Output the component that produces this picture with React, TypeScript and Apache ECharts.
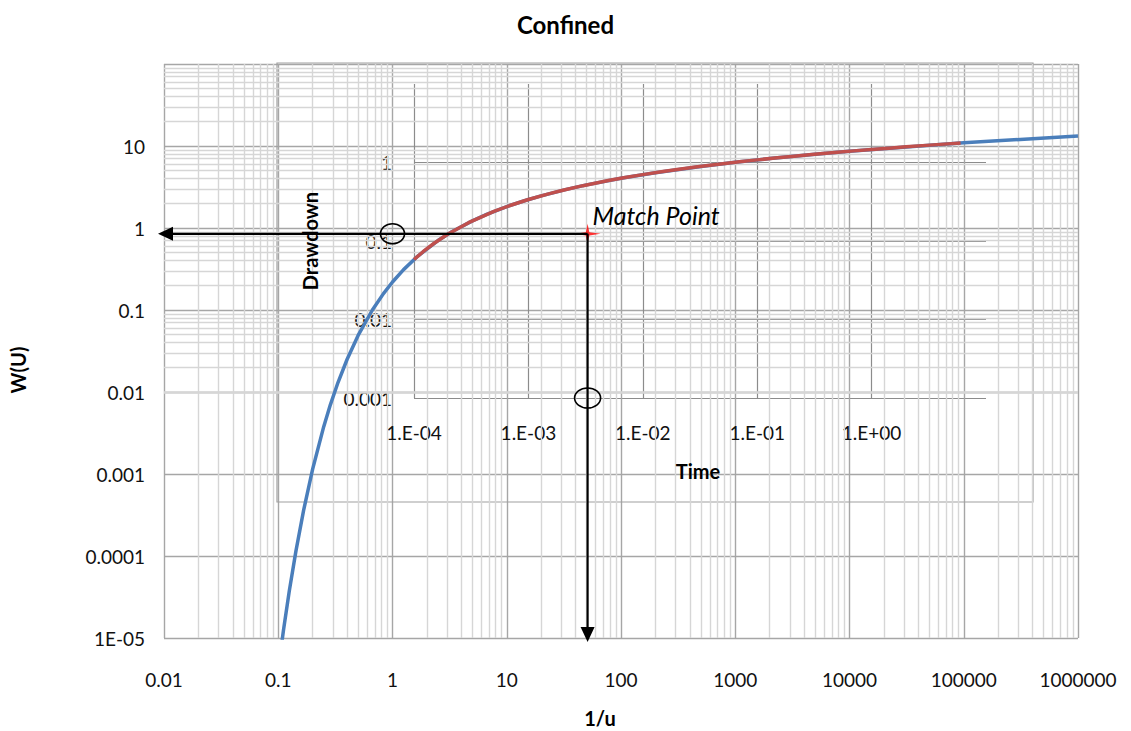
import { useEffect, useRef } from 'react';
import * as echarts from 'echarts';

// Theis well function W(u), listed against 1/u
const invU = [0.1, 0.1111, 0.125, 0.1429, 0.1667, 0.2, 0.25, 0.2857, 0.3333, 0.4, 0.5, 0.6667, 0.8333, 1, 1.25, 1.667, 2.5, 3.333, 5, 6.667, 10, 14.29, 20, 33.33, 50, 100, 200, 500, 1000, 2000, 5000, 10000, 100000, 1000000];
const wU = [4.157e-6, 1.2447e-5, 3.767e-5, 1.155e-4, 3.601e-4, 1.148e-3, 3.779e-3, 6.97e-3, 1.305e-2, 2.491e-2, 4.89e-2, 0.1, 0.1584, 0.2194, 0.3106, 0.4544, 0.7024, 0.9057, 1.2227, 1.4645, 1.8229, 2.1508, 2.4679, 2.9591, 3.3547, 4.0379, 4.7261, 5.6394, 6.3315, 7.0242, 7.9402, 8.6332, 10.9357, 13.2383];

// Observed drawdown against time (overlay plot)
const obsTime = [1e-4, 1.2e-4, 1.5e-4, 2e-4, 3e-4, 5e-4, 7e-4, 1e-3, 1.5e-3, 2e-3, 3e-3, 5e-3, 7e-3, 0.01, 0.015, 0.02, 0.03, 0.05, 0.07, 0.1, 0.15, 0.2, 0.3, 0.5, 0.7, 1, 1.5, 2, 3, 4, 5, 6];
const obsDrawdown = [0.0581, 0.073, 0.0936, 0.1235, 0.1711, 0.2381, 0.2854, 0.3377, 0.399, 0.4432, 0.5069, 0.5883, 0.6424, 0.7004, 0.7665, 0.8135, 0.8805, 0.9649, 1.0207, 1.0801, 1.1477, 1.1958, 1.2637, 1.3498, 1.4065, 1.4667, 1.5352, 1.584, 1.6527, 1.7017, 1.7397, 1.7707];

// Match point on the type curve
const matchInvU = 51;
const matchW = 0.85;

// Axis ranges and tick labels
const xMin = 0.01;
const xMax = 1e6;
const yMin = 1e-5;
const yMax = 100;
const xTickLabels = ['0.01', '0.1', '1', '10', '100', '1000', '10000', '100000', '1000000'];
const yTickLabels = ['1E-05', '0.0001', '0.001', '0.01', '0.1', '1', '10'];
const tMin = 1e-4;
const tMax = 10;
const sMin = 0.001;
const sMax = 10;
const tTickLabels = ['1.E-04', '1.E-03', '1.E-02', '1.E-01', '1.E+00'];
const sTickLabels = ['0.001', '0.01', '0.1', '1'];

const minorSteps = [2, 3, 4, 5, 6, 7, 8, 9];
const xDecades = [-2, -1, 0, 1, 2, 3, 4, 5];
const yDecades = [-5, -4, -3, -2, -1, 0, 1];

const FONT = 'Lato, "Liberation Sans", sans-serif';

const lg = (v: number) => Math.round(Math.log10(v));

export default function App() {
  const ref = useRef<HTMLDivElement>(null);

  useEffect(() => {
    if (!ref.current) return;
    const chart = echarts.init(ref.current, undefined, { renderer: 'svg' });

    const xMinor: number[] = [];
    xDecades.forEach((d) => minorSteps.forEach((m) => xMinor.push(m * Math.pow(10, d))));
    const yMinor: number[] = [];
    yDecades.forEach((d) => minorSteps.forEach((m) => yMinor.push(m * Math.pow(10, d))));

    const labelStyle = { fontFamily: FONT, fontSize: 19, color: '#111' };

    chart.setOption({
      animation: false,
      backgroundColor: '#ffffff',
      title: {
        text: 'Confined',
        left: 'center',
        top: 7,
        textStyle: { fontFamily: FONT, fontSize: 24, fontWeight: 'bold', color: '#000' },
      },
      grid: [
        { left: 164, right: 53, top: 64, bottom: 93 },
        { left: 414, right: 145, top: 84, bottom: 333 },
      ],
      xAxis: [
        {
          type: 'log',
          logBase: 10,
          gridIndex: 0,
          min: xMin,
          max: xMax,
          axisLine: { show: false },
          axisTick: { show: false },
          axisLabel: {
            ...labelStyle,
            margin: 32,
            formatter: (v: number) => xTickLabels[lg(v) + 2] ?? '',
          },
          splitLine: { show: true, showMinLine: true, showMaxLine: true, lineStyle: { color: '#a6a6a6', width: 1.4 } },
        },
        {
          type: 'log',
          logBase: 10,
          gridIndex: 1,
          min: tMin,
          max: tMax,
          axisLine: { show: false },
          axisTick: { show: false },
          axisLabel: {
            ...labelStyle,
            margin: 25,
            formatter: (v: number) => tTickLabels[lg(v) + 4] ?? '',
          },
          splitLine: { show: true, showMinLine: true, showMaxLine: false, lineStyle: { color: '#8c8c8c', width: 1.2 } },
        },
      ],
      yAxis: [
        {
          type: 'log',
          logBase: 10,
          gridIndex: 0,
          min: yMin,
          max: yMax,
          axisLine: { show: false },
          axisTick: { show: false },
          axisLabel: {
            ...labelStyle,
            margin: 19,
            formatter: (v: number) => yTickLabels[lg(v) + 5] ?? '',
          },
          splitLine: { show: true, showMinLine: true, showMaxLine: true, lineStyle: { color: '#a6a6a6', width: 1.4 } },
        },
        {
          type: 'log',
          logBase: 10,
          gridIndex: 1,
          min: sMin,
          max: sMax,
          axisLine: { show: false },
          axisTick: { show: false },
          axisLabel: {
            ...labelStyle,
            margin: 22,
            formatter: (v: number) => sTickLabels[lg(v) + 3] ?? '',
          },
          splitLine: { show: true, showMinLine: true, showMaxLine: false, lineStyle: { color: '#8c8c8c', width: 1.2 } },
        },
      ],
      series: [
        {
          name: 'minor grid',
          type: 'line',
          xAxisIndex: 0,
          yAxisIndex: 0,
          data: [],
          z: 1,
          silent: true,
          markLine: {
            z: 1,
            silent: true,
            symbol: 'none',
            label: { show: false },
            lineStyle: { color: '#d6d6d6', width: 1.4, type: 'solid' },
            data: [
              ...xMinor.map((v) => ({ xAxis: v })),
              ...yMinor.map((v) => ({ yAxis: v })),
            ],
          },
        },
        {
          name: 'W(u)',
          type: 'line',
          xAxisIndex: 0,
          yAxisIndex: 0,
          data: invU.map((x, i) => [x, wU[i]]),
          showSymbol: false,
          clip: true,
          z: 3,
          lineStyle: { color: '#4a7ebb', width: 3.5 },
        },
        {
          name: 'Drawdown',
          type: 'line',
          xAxisIndex: 1,
          yAxisIndex: 1,
          data: obsTime.map((t, i) => [t, obsDrawdown[i]]),
          showSymbol: false,
          z: 4,
          lineStyle: { color: '#c0504d', width: 3.5 },
        },
        {
          name: 'Match Point',
          type: 'scatter',
          xAxisIndex: 0,
          yAxisIndex: 0,
          data: [[matchInvU, matchW]],
          symbol: 'path://M0,-10 L1.6,-1.6 L12,0 L1.6,1.6 L0,10 L-1.6,1.6 L-12,0 L-1.6,-1.6 Z',
          symbolSize: [26, 20],
          itemStyle: { color: '#ff0000' },
          z: 6,
        },
      ],
    });

    const toOuter = (v: number[]) => chart.convertToPixel({ xAxisIndex: 0, yAxisIndex: 0 }, v) as number[];
    const toInner = (v: number[]) => chart.convertToPixel({ xAxisIndex: 1, yAxisIndex: 1 }, v) as number[];

    const p = toOuter([matchInvU, matchW]);
    const leftEnd = toOuter([xMin, matchW]);
    const bottomEnd = toOuter([matchInvU, yMin]);
    const ring1 = toOuter([1, matchW]);
    const innerBottom = toInner([tMin, sMin])[1];

    const hTip = leftEnd[0] - 6;
    const vTip = bottomEnd[1] + 4;
    const black = { stroke: '#000', lineWidth: 2.2 };

    chart.setOption({
      graphic: [
        {
          type: 'rect',
          z: 0,
          silent: true,
          shape: { x: 277, y: 63, width: 756, height: 439 },
          style: { fill: 'none', stroke: '#a0a0a0', lineWidth: 1.2 },
        },
        {
          type: 'line',
          z: 20,
          shape: { x1: p[0], y1: p[1], x2: hTip + 12, y2: p[1] },
          style: black,
        },
        {
          type: 'polygon',
          z: 20,
          shape: { points: [[hTip, p[1]], [hTip + 15, p[1] - 7], [hTip + 15, p[1] + 7]] },
          style: { fill: '#000' },
        },
        {
          type: 'line',
          z: 20,
          shape: { x1: p[0], y1: p[1], x2: p[0], y2: vTip - 12 },
          style: black,
        },
        {
          type: 'polygon',
          z: 20,
          shape: { points: [[p[0], vTip], [p[0] - 7, vTip - 15], [p[0] + 7, vTip - 15]] },
          style: { fill: '#000' },
        },
        {
          type: 'ellipse',
          z: 20,
          shape: { cx: ring1[0], cy: p[1], rx: 12, ry: 10 },
          style: { fill: 'none', stroke: '#000', lineWidth: 1.6 },
        },
        {
          type: 'ellipse',
          z: 20,
          shape: { cx: p[0], cy: innerBottom, rx: 13, ry: 10 },
          style: { fill: 'none', stroke: '#000', lineWidth: 1.6 },
        },
        {
          type: 'text',
          z: 20,
          x: p[0] + 5,
          y: p[1] - 19,
          style: {
            text: 'Match Point',
            font: `italic 25px ${FONT}`,
            fill: '#000',
            align: 'left',
            verticalAlign: 'middle',
          },
        },
        {
          type: 'text',
          z: 20,
          x: 18,
          y: 370,
          rotation: Math.PI / 2,
          style: {
            text: 'W(U)',
            font: `bold 20px ${FONT}`,
            fill: '#000',
            align: 'center',
            verticalAlign: 'middle',
          },
        },
        {
          type: 'text',
          z: 20,
          x: 600,
          y: 718,
          style: {
            text: '1/u',
            font: `bold 20px ${FONT}`,
            fill: '#000',
            align: 'center',
            verticalAlign: 'middle',
          },
        },
        {
          type: 'text',
          z: 20,
          x: 310,
          y: 241,
          rotation: Math.PI / 2,
          style: {
            text: 'Drawdown',
            font: `bold 20px ${FONT}`,
            fill: '#000',
            align: 'center',
            verticalAlign: 'middle',
          },
        },
        {
          type: 'text',
          z: 20,
          x: 698,
          y: 471,
          style: {
            text: 'Time',
            font: `bold 20px ${FONT}`,
            fill: '#000',
            align: 'center',
            verticalAlign: 'middle',
          },
        },
      ],
    });

    return () => chart.dispose();
  }, []);

  return (
    <div
      ref={ref}
      style={{ position: 'fixed', left: 0, top: 0, width: 1131, height: 731, background: '#fff' }}
    />
  );
}
